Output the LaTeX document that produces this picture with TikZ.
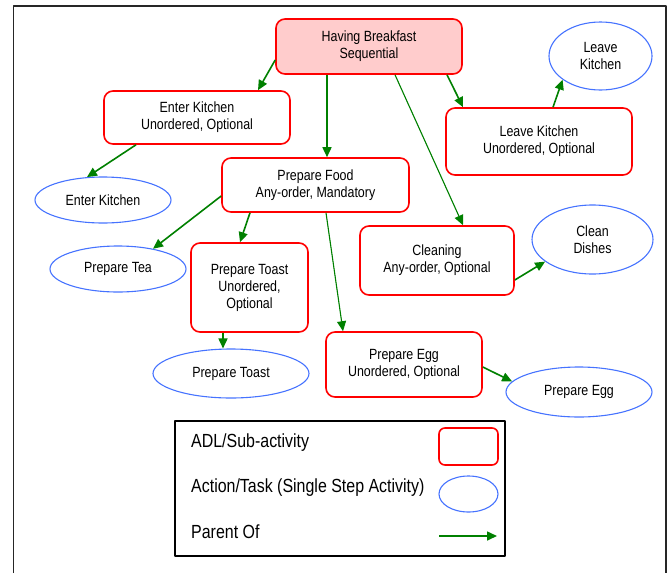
\documentclass[tikz,border=0pt]{standalone}
\usepackage{fontspec}
\setmainfont{Liberation Sans}[FakeStretch=0.84]
\usetikzlibrary{arrows.meta,shapes.geometric}
\definecolor{adlred}{RGB}{255,0,0}
\definecolor{taskblue}{RGB}{70,115,255}
\definecolor{parentgreen}{RGB}{0,128,0}
\definecolor{rootpink}{RGB}{255,204,204}
\begin{document}
\begin{tikzpicture}[x=1pt, y=-1pt, font=\fontsize{14.8}{17}\selectfont, line join=round, >={Triangle[length=10pt,width=9pt]},
		adl/.style={draw=adlred, line width=1.6pt, rounded corners=9pt, align=center, inner sep=0pt},
		task/.style={ellipse, draw=taskblue, line width=1.1pt, align=center, inner sep=0pt},
		parent/.style={->, draw=parentgreen, fill=parentgreen, line width=1.6pt},
		thinparent/.style={parent, line width=1.1pt},
		legendtext/.style={anchor=base west, inner sep=0pt, font=\fontsize{19}{22}\selectfont}]
				\useasboundingbox (0,0) rectangle (671,573);
				\draw[line width=1.5pt, black!85] (13.5,573) -- (13.5,6) -- (666,6) -- (666,573);
				\node[adl, fill=rootpink, minimum width=186pt, minimum height=55pt] (hb) at (369,46.5) {Having Breakfast\\Sequential};
				\node[adl, minimum width=186pt, minimum height=53pt] (ekbox) at (197,117.5) {Enter Kitchen\\Unordered, Optional};
				\node[adl, minimum width=186pt, minimum height=67pt] (lkbox) at (539,141.5) {Leave Kitchen\\Unordered, Optional};
				\node[adl, minimum width=187pt, minimum height=54pt] (pfbox) at (315.5,185) {Prepare Food\\Any-order, Mandatory};
				\node[adl, minimum width=117pt, minimum height=89pt] (toastbox) at (249.5,287.5) {Prepare Toast\\Unordered,\\Optional};
				\node[adl, minimum width=154pt, minimum height=69pt] (cleanbox) at (437,260.5) {Cleaning\\Any-order, Optional};
				\node[adl, minimum width=156pt, minimum height=65pt] (eggbox) at (404,364.5) {Prepare Egg\\Unordered, Optional};
				\node[task, minimum width=136pt, minimum height=46pt] (ektask) at (103,200) {Enter Kitchen};
				\node[task, minimum width=103pt, minimum height=68pt] (lktask) at (600.5,56) {Leave\\Kitchen};
				\node[task, minimum width=136pt, minimum height=46pt] (teatask) at (118,269) {Prepare Tea};
				\node[task, minimum width=156pt, minimum height=49pt] (toasttask) at (231,373.5) {Prepare Toast};
				\node[task, minimum width=121pt, minimum height=69pt] (dishtask) at (592.5,239.5) {Clean\\Dishes};
				\node[task, minimum width=146pt, minimum height=50pt] (eggtask) at (579,392) {Prepare Egg};
				\draw[parent] ([yshift=-13.5pt]hb.west) -- ([xshift=61pt]ekbox.north);
				\draw[parent] ([xshift=-42pt]hb.south) -- ([xshift=11.5pt]pfbox.north);
				\draw[parent] ([xshift=78pt]hb.south) -- ([xshift=-76pt]lkbox.north);
				\draw[thinparent] ([xshift=26pt]hb.south) -- ([xshift=26pt]cleanbox.north);
				\draw[parent] ([xshift=14pt]lkbox.north) -- (lktask.212);
				\draw[parent] ([xshift=-61pt]ekbox.south) -- (ektask.125);
				\draw[parent] ([yshift=-11pt]pfbox.west) -- (teatask.30);
				\draw[parent] ([xshift=-65.5pt]pfbox.south) -- ([xshift=-9.5pt]toastbox.north);
				\draw[thinparent] ([xshift=10.5pt]pfbox.south) -- ([xshift=-61pt]eggbox.north);
				\draw[parent] ([xshift=-26.5pt]toastbox.south) -- ([xshift=-8pt]toasttask.north);
				\draw[parent] ([yshift=-19.5pt]cleanbox.east) -- (dishtask.205);
				\draw[parent] ([yshift=-2.5pt]eggbox.east) -- (eggtask.171);
				\node[draw, line width=1.4pt, minimum width=330pt, minimum height=135pt] (legend) at (340,488.5) {};
				\node[legendtext] (adltext) at (191,447) {ADL/Sub-activity};
				\node[legendtext] (tasktext) at (191,492) {Action/Task (Single Step Activity)};
				\node[legendtext] (parenttext) at (191,538) {Parent Of};
				\node[adl, rounded corners=6pt, minimum width=59pt, minimum height=37pt] (adlkey) at (468.5,446.5) {};
				\node[task, minimum width=59pt, minimum height=36pt] (taskkey) at (468.5,494) {};
				\coordinate (parentfrom) at (439,536);
				\coordinate (parentto) at (497,536);
				\draw[parent] (parentfrom) -- (parentto);
		\end{tikzpicture}
\end{document}
